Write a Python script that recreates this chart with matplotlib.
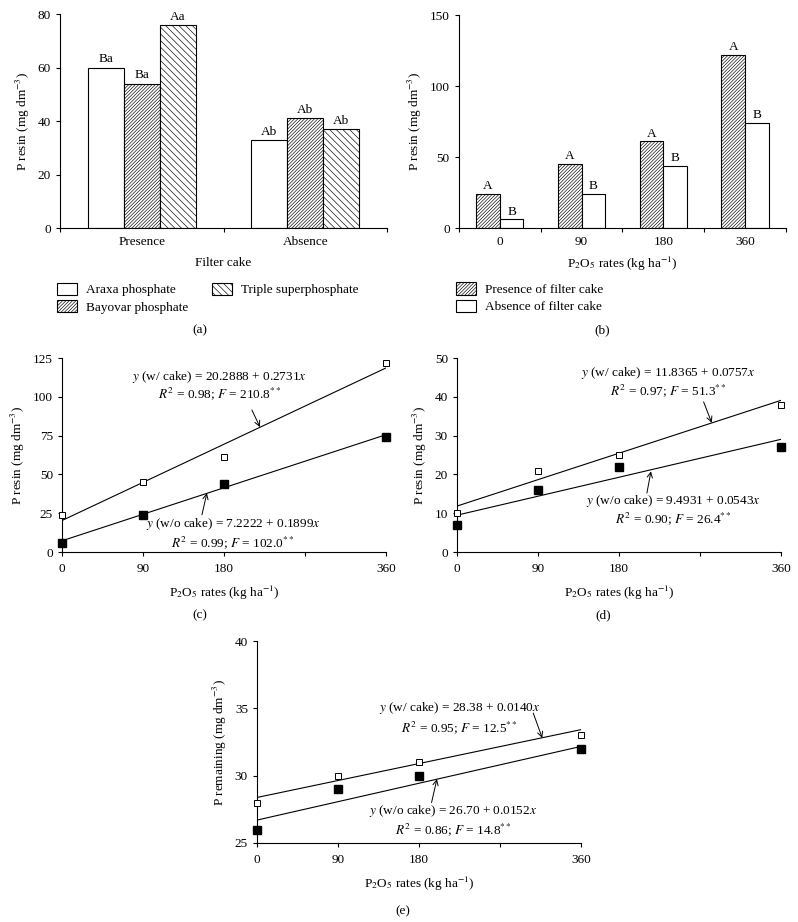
import numpy as np
import matplotlib
matplotlib.use("Agg")
import matplotlib.pyplot as plt
from matplotlib.patches import Patch

plt.rcParams["font.family"] = ["Liberation Serif", "DejaVu Serif"]
plt.rcParams["mathtext.fontset"] = "stix"
plt.rcParams["font.size"] = 9.5
plt.rcParams["hatch.linewidth"] = 0.45
plt.rcParams["axes.linewidth"] = 0.8

FS = 9.5

# (a) P resin by source and filter cake
cake_groups = ["Presence", "Absence"]
sources = ["Araxa phosphate", "Bayovar phosphate", "Triple superphosphate"]
a_values = [[60, 54, 76], [33, 41, 37]]
a_letters = [["Ba", "Ba", "Aa"], ["Ab", "Ab", "Ab"]]

# (b) P resin by P2O5 rate
rates = [0, 90, 180, 360]
b_presence = [24, 45, 61, 122]
b_absence = [6, 24, 44, 74]
b_letters_pres = ["A", "A", "A", "A"]
b_letters_abs = ["B", "B", "B", "B"]

# (c) regressions on P resin
c_with = [24, 45, 61, 122]
c_without = [6, 24, 44, 74]
c_fit_with = (20.2888, 0.2731)
c_fit_without = (7.2222, 0.1899)

# (d)
d_with = [10, 21, 25, 38]
d_without = [7, 16, 22, 27]
d_fit_with = (11.8365, 0.0757)
d_fit_without = (9.4931, 0.0543)

# (e) P remaining
e_with = [28, 30, 31, 33]
e_without = [26, 29, 30, 32]
e_fit_with = (28.38, 0.0140)
e_fit_without = (26.70, 0.0152)

XLAB = r"P$_2$O$_5$ rates (kg ha$^{-1}$)"
DENSE = "//////////"
COARSE = "\\\\\\\\\\"

fig = plt.figure(figsize=(7.98, 9.22), dpi=100)


def style(ax):
    ax.spines["top"].set_visible(False)
    ax.spines["right"].set_visible(False)
    ax.tick_params(direction="out", length=3, width=0.8, labelsize=FS)


# ---- (a)
ax = fig.add_axes([0.0752, 0.7527, 0.41, 0.232])
style(ax)
w = 0.22
hatches = ["", DENSE, COARSE]
for g, vals in enumerate(a_values):
    for i, v in enumerate(vals):
        x = g + 0.5 + (i - 1) * w
        ax.bar(x, v, width=w, color="white", edgecolor="black",
               hatch=hatches[i], linewidth=0.8)
        ax.text(x, v + 0.8, a_letters[g][i], ha="center", va="bottom", fontsize=FS)
ax.set_xlim(0, 2)
ax.set_ylim(0, 80)
ax.set_yticks([0, 20, 40, 60, 80])
ax.set_xticks([0, 1, 2])
ax.set_xticklabels([])
ax.set_xticks([0.5, 1.5], minor=True)
ax.set_xticklabels(cake_groups, minor=True)
ax.tick_params(axis="x", which="minor", length=0, pad=6)
ax.set_xlabel("Filter cake", labelpad=6)
ax.set_ylabel(r"P resin (mg dm$^{-3}$)")
handles = [Patch(facecolor="white", edgecolor="black", hatch=h, linewidth=0.8)
           for h in hatches]
ax.legend(handles, sources, ncol=2, loc="upper left", frameon=False,
          bbox_to_anchor=(-0.045, -0.2), handlelength=1.5, handleheight=1.1,
          columnspacing=1.8, labelspacing=0.25, handletextpad=0.7, fontsize=FS)

# ---- (b)
ax = fig.add_axes([0.575, 0.7527, 0.41, 0.231])
style(ax)
w = 0.29
xs = np.arange(len(rates)) + 0.5
for i in range(len(rates)):
    ax.bar(xs[i] - w / 2, b_presence[i], width=w, color="white",
           edgecolor="black", hatch=DENSE, linewidth=0.8)
    ax.bar(xs[i] + w / 2, b_absence[i], width=w, color="white",
           edgecolor="black", linewidth=0.8)
    ax.text(xs[i] - w / 2, b_presence[i] + 1.2, b_letters_pres[i],
            ha="center", va="bottom")
    ax.text(xs[i] + w / 2, b_absence[i] + 1.2, b_letters_abs[i],
            ha="center", va="bottom")
ax.set_xlim(0, 4)
ax.set_ylim(0, 150)
ax.set_yticks([0, 50, 100, 150])
ax.set_xticks([0, 1, 2, 3, 4])
ax.set_xticklabels([])
ax.set_xticks(xs, minor=True)
ax.set_xticklabels([str(r) for r in rates], minor=True)
ax.tick_params(axis="x", which="minor", length=0, pad=6)
ax.set_xlabel(XLAB, labelpad=5)
ax.set_ylabel(r"P resin (mg dm$^{-3}$)")
handles = [Patch(facecolor="white", edgecolor="black", hatch=DENSE, linewidth=0.8),
           Patch(facecolor="white", edgecolor="black", linewidth=0.8)]
ax.legend(handles, ["Presence of filter cake", "Absence of filter cake"],
          loc="upper left", frameon=False, bbox_to_anchor=(-0.045, -0.2),
          handlelength=1.5, handleheight=1.1, labelspacing=0.25,
          handletextpad=0.7, fontsize=FS)


def reg_panel(rect, y_with, y_without, fit_w, fit_wo, ylim, yticks, ylabel,
              txt_w, txt_wo, arr_w, arr_wo):
    ax = fig.add_axes(rect)
    style(ax)
    xx = np.array([0, 360])
    ax.plot(xx, fit_w[0] + fit_w[1] * xx, color="black", lw=0.8)
    ax.plot(xx, fit_wo[0] + fit_wo[1] * xx, color="black", lw=0.8)
    ax.plot(rates, y_with, "s", ms=5, mfc="white", mec="black", mew=0.7,
            clip_on=False, zorder=5)
    ax.plot(rates, y_without, "s", ms=5.5, mfc="black", mec="black",
            clip_on=False, zorder=5)
    ax.set_xlim(0, 360)
    ax.set_ylim(*ylim)
    ax.set_yticks(yticks)
    ax.set_xticks([0, 90, 180, 270, 360])
    ax.set_xticklabels(["0", "90", "180", "", "360"])
    ax.tick_params(axis="x", pad=5)
    ax.set_xlabel(XLAB, labelpad=6)
    ax.set_ylabel(ylabel)
    for (x, y, s1, s2, dy) in (txt_w, txt_wo):
        ax.text(x, y, s1, ha="center", va="center", fontsize=FS)
        ax.text(x, y - dy, s2, ha="center", va="center", fontsize=FS)
    for (x0, y0, x1, y1) in (arr_w, arr_wo):
        ax.annotate("", xy=(x1, y1), xytext=(x0, y0),
                    arrowprops=dict(arrowstyle="->", lw=0.7, color="black",
                                    shrinkA=0, shrinkB=0))
    return ax


# ---- (c)
reg_panel([0.0777, 0.4013, 0.406, 0.2104], c_with, c_without,
          c_fit_with, c_fit_without, (0, 125), [0, 25, 50, 75, 100, 125],
          r"P resin (mg dm$^{-3}$)",
          (175, 112.5, r"$y$ (w/ cake) = 20.2888 + 0.2731$x$",
           r"$R^2$ = 0.98; $F$ = 210.8$^{**}$", 10.5),
          (190, 18, r"$y$ (w/o cake) = 7.2222 + 0.1899$x$",
           r"$R^2$ = 0.99; $F$ = 102.0$^{**}$", 12),
          (211, 91.5, 220, 80.5), (155.5, 24, 161, 38))

# ---- (d)
reg_panel([0.5727, 0.4013, 0.406, 0.2104], d_with, d_without,
          d_fit_with, d_fit_without, (0, 50), [0, 10, 20, 30, 40, 50],
          r"P resin (mg dm$^{-3}$)",
          (235, 46.2, r"$y$ (w/ cake) = 11.8365 + 0.0757$x$",
           r"$R^2$ = 0.97; $F$ = 51.3$^{**}$", 4.6),
          (240, 13.2, r"$y$ (w/o cake) = 9.4931 + 0.0543$x$",
           r"$R^2$ = 0.90; $F$ = 26.4$^{**}$", 4.6),
          (274, 38.7, 283, 33.3), (211, 15.2, 215.5, 20.8))

# ---- (e)
reg_panel([0.322, 0.0857, 0.406, 0.219], e_with, e_without,
          e_fit_with, e_fit_without, (25, 40), [25, 30, 35, 40],
          r"P remaining (mg dm$^{-3}$)",
          (225, 35.0, r"$y$ (w/ cake) = 28.38 + 0.0140$x$",
           r"$R^2$ = 0.95; $F$ = 12.5$^{**}$", 1.45),
          (218, 27.35, r"$y$ (w/o cake) = 26.70 + 0.0152$x$",
           r"$R^2$ = 0.86; $F$ = 14.8$^{**}$", 1.35),
          (307, 34.65, 317, 32.8), (194, 28.0, 200, 29.75))

for label, x, y in [("(a)", 0.25, 0.642), ("(b)", 0.754, 0.642),
                    ("(c)", 0.25, 0.333), ("(d)", 0.756, 0.333),
                    ("(e)", 0.505, 0.012)]:
    fig.text(x, y, label, ha="center", va="center", fontsize=FS)

fig.savefig("out.png", dpi=100)
